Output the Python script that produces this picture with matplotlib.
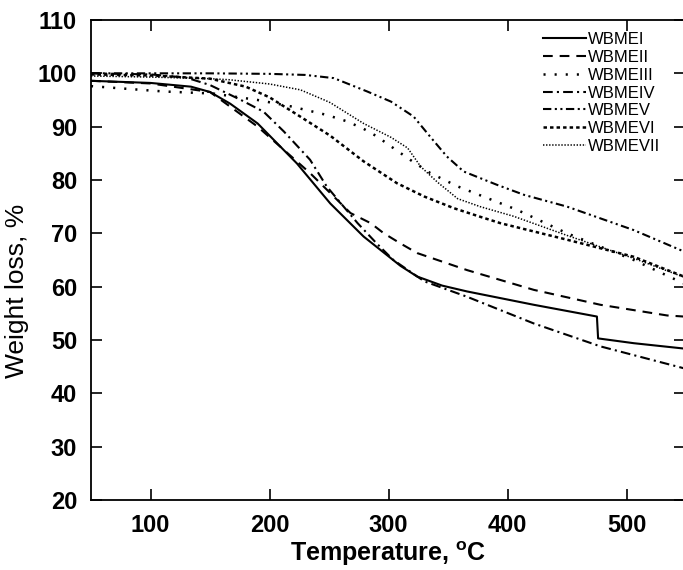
import matplotlib
matplotlib.use("Agg")
import matplotlib.pyplot as plt

plt.rcParams['font.family'] = ['Liberation Sans', 'DejaVu Sans']
plt.rcParams['mathtext.fontset'] = 'custom'
plt.rcParams['mathtext.bf'] = 'Liberation Sans:bold'
plt.rcParams['mathtext.rm'] = 'Liberation Sans'
plt.rcParams['lines.scale_dashes'] = False

# ---- data ----
t_I = [50, 100, 134, 150, 167, 190, 201, 223, 251, 279, 310, 324, 345, 366, 422, 475, 476, 506, 548]
w_I = [98.6, 98.2, 97.5, 96.5, 94.3, 90.6, 88.1, 83.1, 75.6, 69.4, 63.9, 61.9, 60.2, 59.1, 56.6, 54.4, 50.3, 49.4, 48.4]

t_II = [50, 100, 150, 190, 234, 268, 285, 296, 310, 324, 366, 422, 478, 534, 548]
w_II = [98.6, 98.1, 96.5, 90.0, 81.3, 73.8, 71.9, 70.0, 68.1, 66.3, 63.1, 59.4, 56.6, 54.6, 54.4]

t_III = [50, 80, 111, 153, 190, 218, 248, 265, 279, 290, 302, 318, 335, 358, 383, 408, 450, 506, 548]
w_III = [97.6, 97.1, 96.6, 96.2, 95.0, 93.8, 92.2, 91.0, 89.6, 88.2, 86.3, 83.8, 81.3, 78.8, 76.6, 74.4, 70.0, 65.0, 60.6]

t_IV = [50, 100, 130, 150, 176, 195, 212, 234, 248, 260, 274, 290, 304, 330, 366, 422, 478, 548]
w_IV = [100.0, 99.8, 99.2, 97.8, 95.0, 92.8, 89.1, 83.8, 78.8, 75.6, 71.9, 68.1, 65.0, 61.0, 58.1, 53.1, 48.8, 44.7]

t_V = [50, 100, 150, 200, 230, 254, 282, 302, 321, 335, 349, 363, 391, 414, 450, 506, 548]
w_V = [100.0, 100.0, 100.0, 99.9, 99.7, 99.1, 96.6, 94.7, 91.9, 88.1, 84.4, 81.6, 79.1, 77.2, 75.0, 70.6, 66.6]

t_VI = [50, 100, 150, 180, 200, 225, 251, 279, 307, 330, 355, 377, 394, 450, 506, 548]
w_VI = [99.8, 99.6, 99.0, 97.5, 95.5, 92.0, 88.3, 83.5, 79.4, 76.9, 74.7, 73.1, 71.9, 68.8, 65.6, 61.9]

t_VII = [50, 100, 150, 166, 200, 226, 246, 251, 279, 302, 316, 327, 341, 358, 377, 405, 450, 506, 548]
w_VII = [99.5, 99.3, 99.0, 98.8, 98.0, 96.9, 95.0, 94.5, 90.6, 88.0, 86.0, 82.5, 79.6, 76.5, 75.0, 73.2, 69.6, 65.3, 61.8]

labels = ['WBMEI', 'WBMEII', 'WBMEIII', 'WBMEIV', 'WBMEV', 'WBMEVI', 'WBMEVII']
xticks = [100, 200, 300, 400, 500]
yticks = [20, 30, 40, 50, 60, 70, 80, 90, 100, 110]

W, H = 683, 570
fig = plt.figure(figsize=(W / 100, H / 100), dpi=100)
ax = fig.add_axes([91 / W, 70 / H, 594 / W, 480 / H])

styles = [
    dict(ls='-', lw=1.5),
    dict(ls=(0, (7, 5)), lw=1.5),
    dict(ls=(0, (1.5, 6.5)), lw=1.8),
    dict(ls=(0, (7, 3, 1.5, 3)), lw=1.5),
    dict(ls=(0, (6, 2.5, 1.5, 2.5, 1.5, 2.5)), lw=1.5),
    dict(ls=(0, (2.5, 2.2)), lw=1.8),
    dict(ls=(0, (1, 1.2)), lw=1.1),
]
series = [(t_I, w_I), (t_II, w_II), (t_III, w_III), (t_IV, w_IV), (t_V, w_V), (t_VI, w_VI), (t_VII, w_VII)]
for (t, w), lab, st in zip(series, labels, styles):
    ax.plot(t, w, color='black', label=lab, **st)

ax.set_xlim(50, 549)
ax.set_ylim(20, 110)
ax.set_xticks(xticks)
ax.set_yticks(yticks)
ax.tick_params(direction='in', length=8, width=1.2, top=True, right=True, labelsize=17, pad=10)
for lab in ax.get_xticklabels() + ax.get_yticklabels():
    lab.set_fontweight('bold')
for s in ['left', 'bottom', 'top']:
    ax.spines[s].set_linewidth(1.3)
ax.spines['right'].set_visible(False)

ax.set_xlabel(r'Temperature, $^{\mathbf{o}}$C', fontsize=18, fontweight='bold', labelpad=2)
ax.set_ylabel('Weight loss, %', fontsize=19)
ax.yaxis.set_label_coords(-0.104, 0.435)

leg = ax.legend(loc='upper left', bbox_to_anchor=(543 / W, 1 - 32 / H), bbox_transform=fig.transFigure,
                frameon=False, fontsize=12, handlelength=2.6, handletextpad=0.12, labelspacing=0.17,
                borderpad=0, borderaxespad=0)

fig.savefig('out.png', dpi=100)
